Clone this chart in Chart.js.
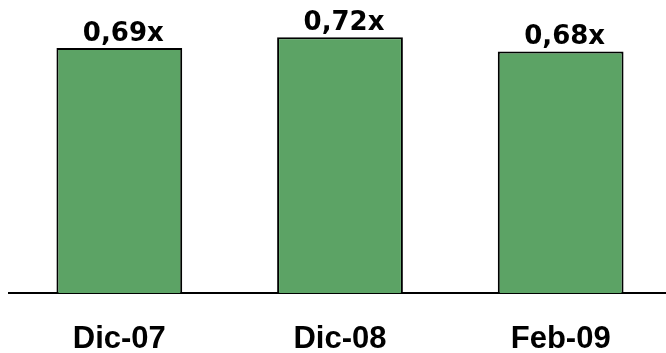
<!DOCTYPE html>
<html lang="es">
<head>
  <meta charset="UTF-8">
  <title>Multiplo</title>
  <script src="https://cdn.jsdelivr.net/npm/chart.js"></script>
  <style>
    html, body {
      margin: 0;
      padding: 0;
      background: #ffffff;
      overflow: hidden;
    }
    .chart-box {
      width: 671px;
      height: 353px;
    }
  </style>
</head>
<body>
  <div class="chart-box">
    <canvas id="barChart"></canvas>
  </div>

  <script>
    // Periodos y valores del multiplo
    const periods = ["Dic-07", "Dic-08", "Feb-09"];
    const multiples = [0.69, 0.72, 0.68];
    const valueLabels = ["0,69x", "0,72x", "0,68x"];

    // Etiquetas encima de cada barra
    const topLabels = {
      id: "topLabels",
      afterDatasetsDraw(chart) {
        const ctx = chart.ctx;
        const meta = chart.getDatasetMeta(0);
        ctx.save();
        ctx.font = "bold 26px 'DejaVu Sans'";
        ctx.fillStyle = "#000000";
        ctx.textAlign = "center";
        ctx.textBaseline = "alphabetic";
        meta.data.forEach((bar, i) => {
          ctx.fillText(valueLabels[i], bar.x + 4, bar.y - 7);
        });
        ctx.restore();
      }
    };

    new Chart(document.getElementById("barChart"), {
      type: "bar",
      data: {
        labels: periods,
        datasets: [{
          data: multiples,
          backgroundColor: "#5ca365",
          borderColor: "#000000",
          borderWidth: 2,
          borderSkipped: "bottom",
          barPercentage: 0.57,
          categoryPercentage: 1
        }]
      },
      options: {
        responsive: true,
        maintainAspectRatio: false,
        animation: false,
        layout: {
          padding: { top: 0, left: 9, right: 0, bottom: 0 }
        },
        plugins: {
          legend: { display: false },
          tooltip: { enabled: false }
        },
        scales: {
          x: {
            grid: { display: false, drawTicks: false },
            border: { display: true, color: "#000000", width: 2 },
            ticks: {
              color: "#000000",
              padding: 28,
              font: { family: "'Liberation Sans', Arial, sans-serif", size: 31, weight: "bold" }
            },
            afterFit(scale) {
              scale.height = 60;
            }
          },
          y: {
            display: false,
            min: 0,
            max: 0.825
          }
        }
      },
      plugins: [topLabels]
    });
  </script>
</body>
</html>
